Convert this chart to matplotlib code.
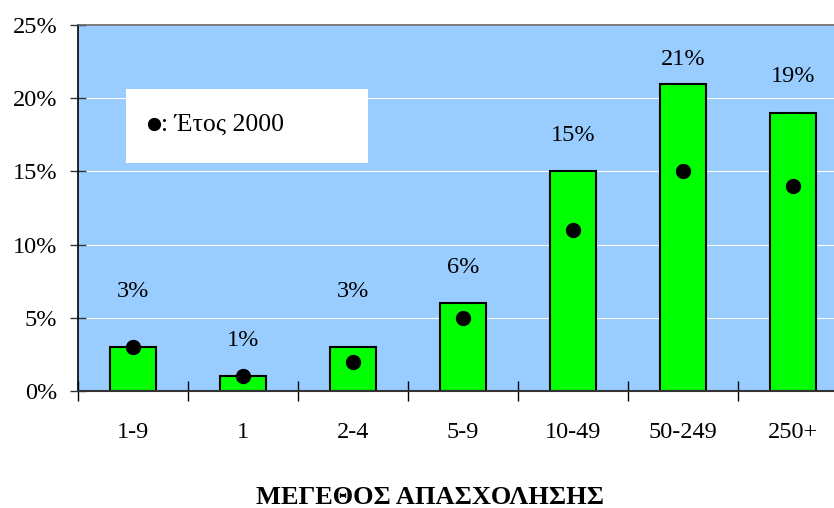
import numpy as np
import matplotlib
matplotlib.use("Agg")
import matplotlib.pyplot as plt
from matplotlib.patches import Rectangle

# ---------- data ----------
categories = ["1-9", "1", "2-4", "5-9", "10-49", "50-249", "250+"]
bar_values = [3, 1, 3, 6, 15, 21, 19]        # % (bars, labelled)
year2000 = [3, 1, 2, 5, 11, 15, 14]           # % (black dots, Έτος 2000)
bar_labels = ["3%", "1%", "3%", "6%", "15%", "21%", "19%"]

# label offsets above bar tops, in points (style only)
label_offsets = [40, 26, 40, 26, 26, 17, 26]

plt.rcParams["font.family"] = ["Liberation Serif", "DejaVu Serif"]

fig = plt.figure(figsize=(8.34, 5.08), dpi=100)
W, H = 834, 508
ax = fig.add_axes([78 / W, (508 - 391) / H, (848 - 78) / W, (391 - 25) / H])
ax.set_facecolor("#99CCFF")

x = np.arange(len(categories))
ax.set_axisbelow(True)
ax.yaxis.grid(True, color="white", linewidth=0.8)
ax.bar(x, bar_values, width=0.42, color="#00FF00", edgecolor="black",
       linewidth=1.5, zorder=2)
ax.plot(x, year2000, "o", color="black", markersize=10, zorder=3)

for xi, v, lab, off in zip(x, bar_values, bar_labels, label_offsets):
    ax.annotate(lab, (xi, v), xytext=(0, off), textcoords="offset points",
                ha="center", va="center", fontsize=17.5)

ax.set_xlim(-0.5, 6.5)
ax.set_ylim(0, 25)
ax.set_yticks([0, 5, 10, 15, 20, 25])
ax.set_yticklabels(["0%", "5%", "10%", "15%", "20%", "25%"], fontsize=17.5)
ax.tick_params(axis="y", direction="inout", length=12, width=1,
               color="#333333", pad=9)

ax.set_xticks(x)
ax.set_xticklabels(categories, fontsize=17.5)
ax.set_xticks(np.arange(-0.5, 7, 1.0), minor=True)
ax.tick_params(axis="x", which="major", length=0, pad=22)
ax.tick_params(axis="x", which="minor", direction="inout", length=14,
               width=1, color="black")

ax.spines["left"].set_color("black")
ax.spines["left"].set_linewidth(1.2)
ax.spines["bottom"].set_color("#333333")
ax.spines["bottom"].set_linewidth(1.5)
ax.spines["top"].set_color("#666666")
ax.spines["top"].set_linewidth(1.2)
ax.spines["right"].set_visible(False)

# legend box
ax.add_patch(Rectangle((48 / 770, (391 - 163) / 366), (368 - 126) / 770,
                       (163 - 89) / 366, transform=ax.transAxes,
                       facecolor="white", edgecolor="none", zorder=4))
ax.plot([(154 - 78) / 770], [(391 - 124) / 366], "o", color="black",
        markersize=8.5, transform=ax.transAxes, zorder=5)
ax.text((161 - 78) / 770, (391 - 125) / 366, ": Έτος 2000",
        transform=ax.transAxes, fontsize=18.5, va="center", ha="left", zorder=5)

fig.text(430 / W, 1 - 498 / H, "ΜΕΓΕΘΟΣ ΑΠΑΣΧΟΛΗΣΗΣ", ha="center",
         va="center", fontsize=19, fontweight="bold")

fig.savefig("out.png", dpi=100)
